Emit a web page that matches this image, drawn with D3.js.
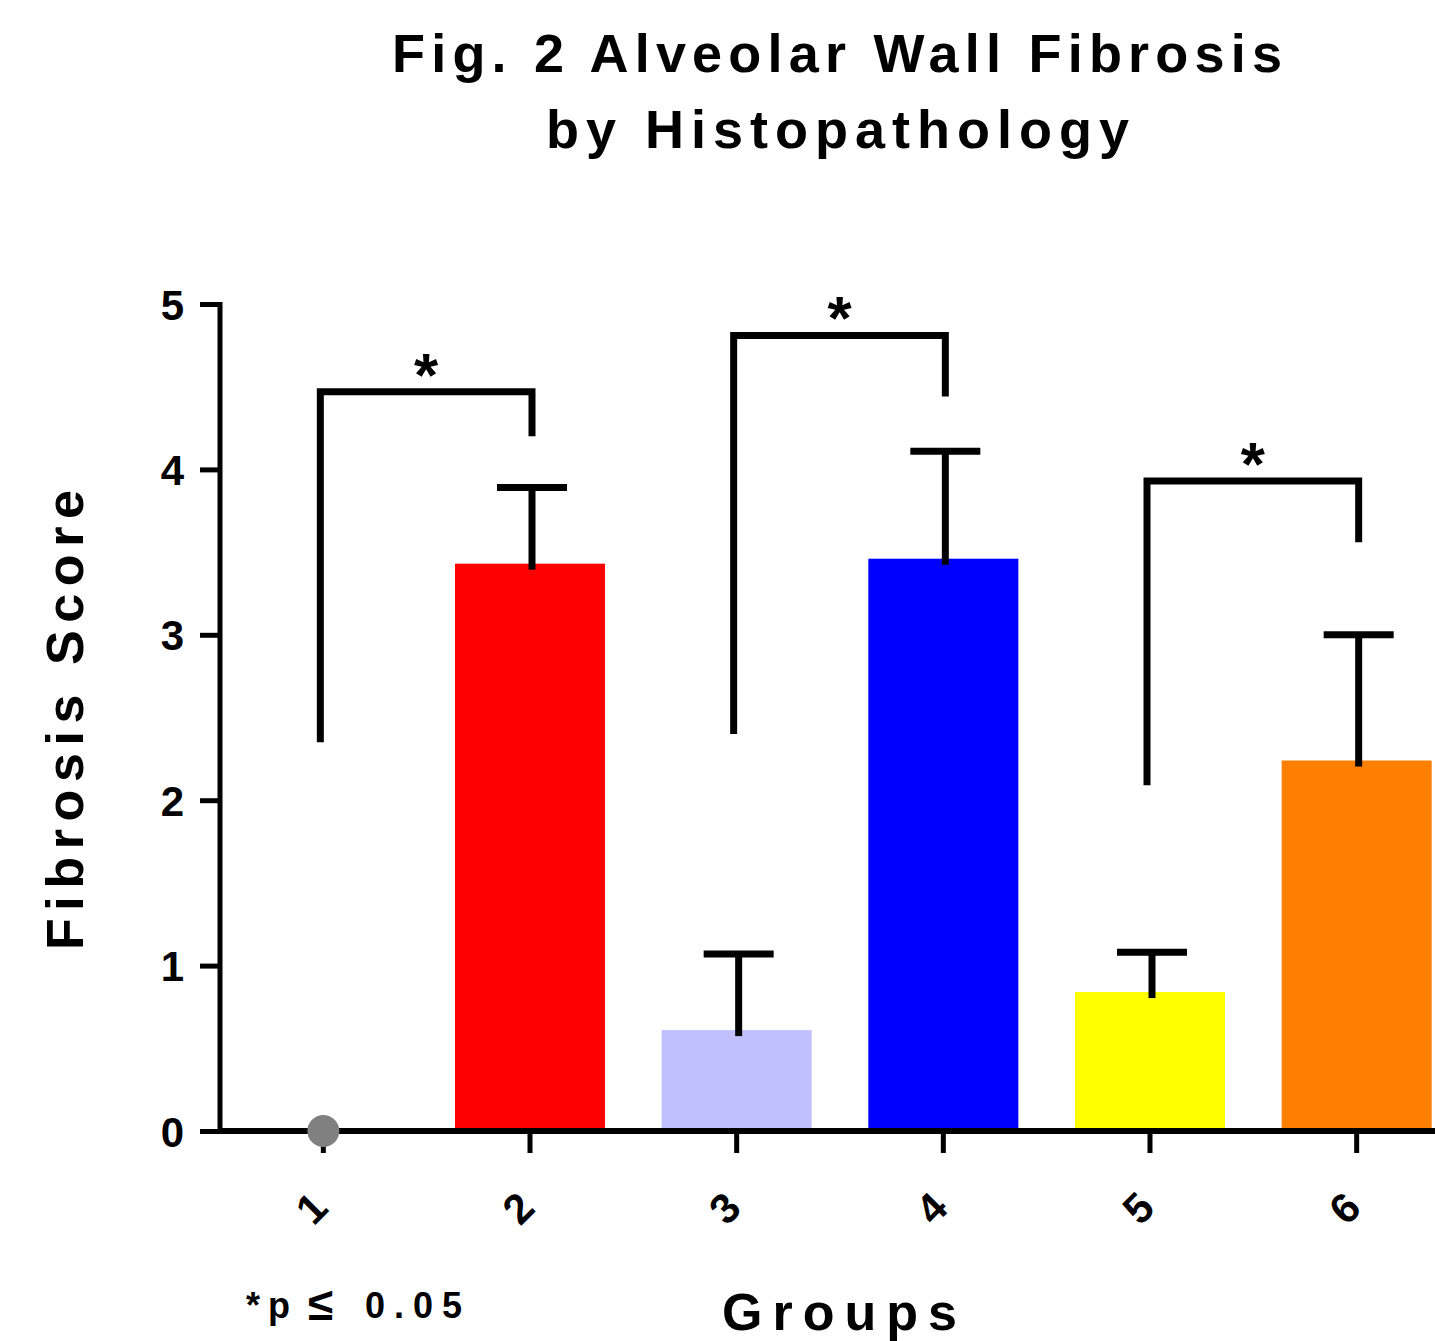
<!DOCTYPE html>
<html><head><meta charset="utf-8">
<script src="https://cdn.jsdelivr.net/npm/d3@7"></script>
<style>body{margin:0;background:#fff}svg{display:block}text{font-family:"Liberation Sans",Arial,sans-serif;font-weight:bold}
.narrow{font-family:"Liberation Sans Narrow","Arial Narrow","Liberation Sans",sans-serif}</style>
</head><body><svg id="c" width="1435" height="1341"></svg>
<script>
const groups = ["1","2","3","4","5","6"];
const means = [0, 3.43, 0.61, 3.46, 0.84, 2.24];
const sems  = [0, 0.46, 0.46, 0.65, 0.24, 0.76];
const barColors = ["#808080","#ff0000","#c0c0ff","#0000ff","#ffff00","#ff8000"];
const yTicks = [0,1,2,3,4,5];
// significance brackets
const bracketFrom = [0, 2, 4];
const bracketTo   = [1, 3, 5];
const bracketTop  = [4.47, 4.81, 3.93];
const bracketLeftEnd  = [2.35, 2.40, 2.09];
const bracketRightEnd = [4.20, 4.44, 3.56];

const svg = d3.select("#c");
const x = d3.scaleBand().domain(groups).range([220, 1460]).paddingInner(0.274).paddingOuter(0.137);
const y = d3.scaleLinear().domain([0,5]).range([1131, 304]);

svg.selectAll("rect.bar").data(groups).enter().append("rect")
  .attr("x", d => x(d)).attr("width", x.bandwidth())
  .attr("y", (d,i) => y(means[i])).attr("height", (d,i) => y(0) - y(means[i]))
  .attr("fill", (d,i) => barColors[i]);

const cx = d => x(d) + x.bandwidth()/2 + 2;
groups.forEach((g,i) => {
  if (sems[i] <= 0) return;
  svg.append("line").attr("x1", cx(g)).attr("x2", cx(g))
    .attr("y1", y(means[i]) + 6).attr("y2", y(means[i] + sems[i]))
    .attr("stroke","#000").attr("stroke-width",7);
  svg.append("line").attr("x1", cx(g) - 35).attr("x2", cx(g) + 35)
    .attr("y1", y(means[i] + sems[i])).attr("y2", y(means[i] + sems[i]))
    .attr("stroke","#000").attr("stroke-width",7);
});

const yAxis = d3.axisLeft(y).tickValues(yTicks).tickFormat(d3.format("d")).tickSize(20).tickPadding(16);
const gy = svg.append("g").attr("transform","translate(220,0)").call(yAxis);
gy.attr("font-size",null).attr("font-family",null);
gy.select(".domain").attr("stroke","#000").attr("stroke-width",5).attr("d","M0,302V1131");
gy.selectAll(".tick line").attr("stroke","#000").attr("stroke-width",5);
gy.selectAll(".tick text").style("font-size","42px").attr("fill","#000")
  .style("font-weight","900").attr("dy","0.36em");

const xAxis = d3.axisBottom(x).tickSize(22).tickFormat("");
const gx = svg.append("g").attr("transform","translate(0,1131)").call(xAxis);
gx.attr("font-size",null).attr("font-family",null);
gx.select(".domain").attr("stroke","#000").attr("stroke-width",6).attr("d","M220,0H1435");
gx.selectAll(".tick line").attr("stroke","#000").attr("stroke-width",5);
gx.selectAll(".tick").append("text")
  .attr("transform","translate(-12,77) rotate(-45)")
  .attr("text-anchor","middle").attr("dy","0.35em")
  .style("font-size","42px").attr("fill","#000").style("font-weight","900")
  .text(d => d);

svg.append("circle").attr("cx", x("1") + x.bandwidth()/2).attr("cy", y(means[0])).attr("r",16).attr("fill", barColors[0]);

bracketFrom.forEach((a,k) => {
  const xa = x(groups[a]) + x.bandwidth()/2 - 3, xb = x(groups[bracketTo[k]]) + x.bandwidth()/2 + 2;
  const p = d3.path();
  p.moveTo(xa, y(bracketLeftEnd[k])); p.lineTo(xa, y(bracketTop[k]));
  p.lineTo(xb, y(bracketTop[k])); p.lineTo(xb, y(bracketRightEnd[k]));
  svg.append("path").attr("d", p.toString()).attr("fill","none").attr("stroke","#000").attr("stroke-width",7);
  svg.append("text").attr("x",(xa+xb)/2).attr("y", y(bracketTop[k]) + 4).attr("text-anchor","middle")
    .style("font-size","62px").text("*");
});

svg.append("text").attr("class","narrow").attr("x",392).attr("y",72).style("font-size","54px")
  .attr("textLength",890).attr("lengthAdjust","spacing").text("Fig. 2 Alveolar Wall Fibrosis");
svg.append("text").attr("class","narrow").attr("x",546).attr("y",148).style("font-size","54px")
  .attr("textLength",583).attr("lengthAdjust","spacing").text("by Histopathology");

svg.append("text").attr("transform","translate(83,950) rotate(-90)").style("font-size","52px")
  .attr("textLength",460).attr("lengthAdjust","spacing").text("Fibrosis Score");
svg.append("text").attr("class","narrow").attr("x",722).attr("y",1330).style("font-size","52px")
  .attr("textLength",235).attr("lengthAdjust","spacing").text("Groups");
svg.append("text").attr("class","narrow").attr("x",246).attr("y",1318).style("font-size","36px")
  .attr("textLength",44).attr("lengthAdjust","spacing").text("*p");
svg.append("text").attr("x",308).attr("y",1320).style("font-size","46px").style("font-weight","900").text("≤");
svg.append("text").attr("class","narrow").attr("x",365).attr("y",1318).style("font-size","36px")
  .attr("textLength",97).attr("lengthAdjust","spacing").text("0.05");
</script></body></html>
